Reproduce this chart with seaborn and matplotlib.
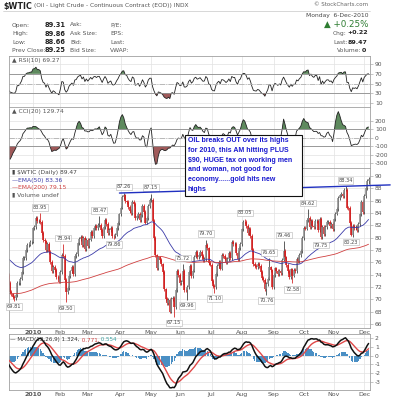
import numpy as np
import pandas as pd
import seaborn as sns
import matplotlib
matplotlib.use("Agg")
import matplotlib.pyplot as plt
from matplotlib.patches import Rectangle
from matplotlib.lines import Line2D

# $WTIC daily closes
# nov 2009 is off screen, only used to warm up rsi / cci / macd
close_2009_11 = [78.15, 79.60, 80.40, 79.62, 77.43, 79.05, 79.07, 79.28, 76.94, 76.35,
                 78.90, 79.14, 79.58, 77.46, 76.72, 77.56, 76.02, 77.96, 76.05, 77.28]
close_2009_12 = [78.37, 76.60, 76.46, 75.47, 73.93, 72.62, 71.20, 70.80, 70.40, 70.20, 70.69,
                 72.66, 72.66, 73.36, 74.40, 76.67, 76.67, 78.05, 78.77, 78.87, 79.28, 79.36]
close_2010_01 = [81.51, 81.77, 83.18, 82.66, 82.75, 82.52, 80.79, 79.65, 79.39, 78.00,
                 79.02, 77.62, 76.08, 74.54, 75.26, 74.71, 73.67, 73.64, 72.89]
close_2010_02 = [74.43, 77.23, 76.98, 73.14, 71.19, 71.89, 73.75, 74.52, 75.28, 74.13,
                 77.01, 77.33, 79.06, 79.81, 80.16, 78.86, 80.00, 78.17, 79.66]
close_2010_03 = [78.70, 79.68, 80.87, 80.21, 81.50, 81.87, 81.49, 82.09, 82.11, 81.24, 80.30, 81.70,
                 82.93, 82.20, 80.68, 81.25, 81.60, 80.31, 80.20, 80.50, 81.53, 82.37, 83.76]
close_2010_04 = [84.87, 86.62, 86.84, 85.88, 85.74, 84.92, 84.34, 84.05, 85.84, 85.51, 83.24,
                 83.45, 83.85, 82.84, 83.70, 85.12, 84.20, 82.44, 83.22, 85.17, 86.15]
close_2010_05 = [86.19, 82.74, 79.97, 77.11, 75.11, 76.80, 76.37, 75.65, 74.38, 71.61,
                 70.08, 69.41, 69.87, 68.01, 70.04, 70.21, 68.75, 71.51, 74.55, 73.97]
close_2010_06 = [72.58, 72.86, 74.61, 71.51, 71.44, 71.99, 74.38, 75.48, 73.78, 74.67, 76.94,
                 77.67, 76.79, 77.18, 77.75, 77.02, 76.35, 76.51, 78.86, 78.26, 75.94, 75.63]
close_2010_07 = [72.95, 72.14, 71.98, 74.07, 75.44, 76.09, 75.00, 77.14, 77.04, 76.62, 76.01,
                 76.54, 77.58, 76.70, 79.30, 78.98, 78.98, 77.50, 76.52, 78.36, 78.95]
close_2010_08 = [81.34, 82.55, 82.49, 81.89, 80.70, 81.48, 80.25, 78.02, 75.74, 75.39, 75.24,
                 75.77, 75.42, 74.43, 73.46, 73.10, 71.63, 72.52, 73.36, 75.17, 74.70, 71.92]
close_2010_09 = [73.91, 75.02, 74.60, 74.09, 74.67, 74.25, 76.45, 77.90, 76.80, 75.57, 74.57,
                 73.66, 74.86, 73.86, 74.71, 74.64, 76.49, 76.18, 77.18, 77.86, 79.97]
close_2010_10 = [81.58, 81.47, 82.82, 83.23, 81.67, 82.66, 81.95, 81.67, 82.69, 82.69, 81.25,
                 83.08, 80.10, 81.77, 80.56, 81.69, 82.52, 82.55, 81.94, 82.18, 81.43]
close_2010_11 = [82.95, 83.90, 84.69, 86.49, 86.85, 87.06, 86.72, 87.81, 87.81, 84.88, 84.86,
                 82.34, 80.44, 81.85, 81.51, 81.74, 81.25, 82.21, 83.76, 85.73, 84.11]
close_2010_12 = [86.75, 88.00, 89.25, 89.47]

holidays = ['2009-11-26', '2009-12-25', '2010-01-01', '2010-01-18', '2010-02-15',
            '2010-04-02', '2010-05-31', '2010-07-05', '2010-09-06', '2010-11-25']

# swing high / low labels printed on the chart
label_dates = ['2009-12-14', '2010-01-11', '2010-02-03', '2010-02-05', '2010-03-11', '2010-03-25',
               '2010-04-06', '2010-05-03', '2010-05-25', '2010-06-03', '2010-06-08', '2010-06-25',
               '2010-07-06', '2010-08-04', '2010-08-25', '2010-08-27', '2010-09-13', '2010-09-21',
               '2010-10-06', '2010-10-19', '2010-11-11', '2010-11-17']
label_values = [69.81, 83.95, 78.94, 69.50, 83.47, 79.86, 87.26, 87.15, 67.15, 75.72, 69.96,
                79.70, 71.10, 83.05, 70.76, 76.65, 79.46, 72.58, 84.62, 79.75, 88.34, 80.23]
label_kind = ['lo', 'hi', 'hi', 'lo', 'hi', 'lo', 'hi', 'hi', 'lo', 'hi', 'lo', 'hi',
              'lo', 'hi', 'lo', 'hi', 'hi', 'lo', 'hi', 'lo', 'hi', 'lo']

# last bar from the header
last_date, last_high, last_low = '2010-12-06', 89.86, 88.66

# hand drawn trend line through the two highs
trend_dates = ['2010-04-06', '2010-11-11']
trend_levels = [87.26, 88.34]

ema50_seed, ema200_seed = 75.5, 69.0

month_labels = ['2010', 'Feb', 'Mar', 'Apr', 'May', 'Jun', 'Jul', 'Aug', 'Sep', 'Oct', 'Nov', 'Dec']

header_left = [('Open:', '89.31', 'Ask:', 'P/E:'),
               ('High:', '89.86', 'Ask Size:', 'EPS:'),
               ('Low:', '88.66', 'Bid:', 'Last:'),
               ('Prev Close:', '89.25', 'Bid Size:', 'VWAP:')]

note = ("OIL breaks OUT over its highs\nfor 2010, this AM hitting PLUS\n"
        "$90, HUGE tax on working men\nand woman, not good for\neconomy......gold hits new\nhighs")

# ---- build the frame ----
closes = (close_2009_11 + close_2009_12 + close_2010_01 + close_2010_02 + close_2010_03 +
          close_2010_04 + close_2010_05 + close_2010_06 + close_2010_07 + close_2010_08 +
          close_2010_09 + close_2010_10 + close_2010_11 + close_2010_12)
dates = pd.bdate_range('2009-11-02', '2010-12-06')
dates = dates[~dates.isin(pd.to_datetime(holidays))]
assert len(dates) == len(closes), (len(dates), len(closes))

df = pd.DataFrame({'close': closes}, index=dates)
df['open'] = df['close'].shift(1).fillna(df['close'])
df['high'] = df[['open', 'close']].max(axis=1) + 0.3
df['low'] = df[['open', 'close']].min(axis=1) - 0.3
for d, v, k in zip(label_dates, label_values, label_kind):
    df.loc[d, 'high' if k == 'hi' else 'low'] = v
df.loc[last_date, 'high'] = last_high
df.loc[last_date, 'low'] = last_low
# trading day axis, 0 = first bar of 2010
df['x'] = np.arange(len(df)) - len(close_2009_11) - len(close_2009_12)


def ema_seeded(values, span, seed):
    a = 2 / (span + 1)
    out, prev = [], seed
    for v in values:
        prev = a * v + (1 - a) * prev
        out.append(prev)
    return np.array(out)


df['ema50'] = ema_seeded(df['close'], 50, ema50_seed)
df['ema200'] = ema_seeded(df['close'], 200, ema200_seed)

delta = df['close'].diff()
gain = delta.clip(lower=0).ewm(alpha=1 / 10, adjust=False).mean()
loss = (-delta.clip(upper=0)).ewm(alpha=1 / 10, adjust=False).mean()
df['rsi'] = 100 - 100 / (1 + gain / loss)

tp = (df['high'] + df['low'] + df['close']) / 3
md = tp.rolling(20).apply(lambda v: np.abs(v - v.mean()).mean(), raw=True)
df['cci'] = (tp - tp.rolling(20).mean()) / (0.015 * md)

df['macd'] = df['close'].ewm(span=12, adjust=False).mean() - df['close'].ewm(span=26, adjust=False).mean()
df['signal'] = df['macd'].ewm(span=9, adjust=False).mean()
df['hist'] = df['macd'] - df['signal']

vis = df[df['x'] >= -17]
month_x = vis[vis['x'] >= 0].groupby(vis[vis['x'] >= 0].index.month)['x'].first().values
xmin, xmax = -16.7, 234

# ---- figure ----
sns.set_theme(style="white")
plt.rcParams['font.family'] = ['DejaVu Sans']
plt.rcParams['axes.unicode_minus'] = False

W, H = 393, 400
fig = plt.figure(figsize=(W / 100, H / 100), dpi=100)


def fx(x):
    return x / W


def fy(y):
    return 1 - y / H


def panel(top, bottom):
    return fig.add_axes([fx(9), fy(bottom), fx(370) - fx(9), (bottom - top) / H])


def style(ax, yticks, ylim):
    ax.set_xlim(xmin, xmax)
    ax.set_ylim(ylim)
    ax.set_yticks(yticks)
    ax.yaxis.tick_right()
    ax.tick_params(axis='y', labelsize=4.3, labelcolor='#555555', length=2, width=0.4,
                   color='#999999', pad=1.5, right=True, left=False)
    ax.set_xticks(month_x)
    ax.tick_params(axis='x', length=0, labelbottom=False)
    ax.grid(True, color='#e2e2e2', lw=0.5)
    for s in ax.spines.values():
        s.set_color('#a0a0a0')
        s.set_linewidth(0.6)
    ax.set_xlabel('')
    ax.set_ylabel('')


GREEN, RED = '#5e8a5e', '#a05a5a'

# RSI
ax_rsi = panel(56, 107)
sns.lineplot(x=vis['x'], y=vis['rsi'], ax=ax_rsi, color='#222222', lw=0.6, legend=False)
ax_rsi.fill_between(vis['x'], vis['rsi'], 70, where=vis['rsi'] > 70, interpolate=True, color=GREEN, lw=0)
ax_rsi.fill_between(vis['x'], vis['rsi'], 30, where=vis['rsi'] < 30, interpolate=True, color=RED, lw=0)
for lvl in (70, 30):
    ax_rsi.axhline(lvl, color='#8c8c8c', lw=0.6)
ax_rsi.axhline(50, color='#b0b0b0', lw=0.6, ls='-.')
style(ax_rsi, [10, 30, 50, 70, 90], (1.6, 106.8))
ax_rsi.text(0.008, 0.97, '\u25b2 RSI(10) 69.27', transform=ax_rsi.transAxes, fontsize=4.3,
            color='#555555', va='top')

# CCI
ax_cci = panel(107, 168)
sns.lineplot(x=vis['x'], y=vis['cci'], ax=ax_cci, color='#222222', lw=0.6, legend=False)
ax_cci.fill_between(vis['x'], vis['cci'], 100, where=vis['cci'] > 100, interpolate=True, color=GREEN, lw=0)
ax_cci.fill_between(vis['x'], vis['cci'], -100, where=vis['cci'] < -100, interpolate=True, color=RED, lw=0)
for lvl in (100, -100):
    ax_cci.axhline(lvl, color='#8c8c8c', lw=0.6)
ax_cci.axhline(0, color='#b0b0b0', lw=0.6, ls='-.')
style(ax_cci, [-300, -200, -100, 0, 100, 200], (-360, 367))
ax_cci.text(0.008, 0.97, '\u25b2 CCI(20) 129.74', transform=ax_cci.transAxes, fontsize=4.3,
            color='#555555', va='top')

# price
ax_p = panel(168, 328)
up = vis['close'] >= vis['close'].shift(1).fillna(vis['open'])
wick_col = np.where(up, '#333333', '#d01818')
body_col = np.where(up, '#8a8a8a', '#d01818')
ax_p.vlines(vis['x'], vis['low'], vis['high'], colors=wick_col, lw=0.55)
ax_p.vlines(vis['x'], vis['open'], vis['close'], colors=body_col, lw=1.1)
sns.lineplot(x=vis['x'], y=vis['ema50'], ax=ax_p, color='#3a3aa8', lw=0.6, legend=False)
sns.lineplot(x=vis['x'], y=vis['ema200'], ax=ax_p, color='#d04040', lw=0.6, legend=False)
style(ax_p, list(range(66, 91, 2)), (65.35, 91.3))
ax_p.set_xticklabels(month_labels)
ax_p.tick_params(axis='x', labelbottom=True, labelsize=4.5, labelcolor='#555555', pad=1.2)
ax_p.get_xticklabels()[0].set_fontweight('bold')

for d, v, k in zip(label_dates, label_values, label_kind):
    xi = df.loc[d, 'x']
    ax_p.annotate(f'{v:.2f}', xy=(xi, v), xytext=(0, 2.5 if k == 'hi' else -2.5),
                  textcoords='offset points', ha='center', va='bottom' if k == 'hi' else 'top',
                  fontsize=3.6, color='#444444',
                  bbox=dict(boxstyle='square,pad=0.15', fc='white', ec='#b5b5b5', lw=0.4))

# trend line, extended past the right edge like the original
tx = [df.loc[d, 'x'] for d in trend_dates]
slope = (trend_levels[1] - trend_levels[0]) / (tx[1] - tx[0])
line_x = np.array([df.loc['2010-03-31', 'x'], 248])
line_y = trend_levels[0] + slope * (line_x - tx[0])
ax_p.plot(line_x, line_y, color='#2030c0', lw=1.0, clip_on=False, zorder=5)

ax_p.text(0.008, 0.985, '\u25ae $WTIC (Daily) 89.47', transform=ax_p.transAxes, fontsize=4.3,
          color='#444444', va='top')
ax_p.text(0.008, 0.94, '\u2014EMA(50) 83.36', transform=ax_p.transAxes, fontsize=4.3,
          color='#3a3aa8', va='top')
ax_p.text(0.008, 0.895, '\u2014EMA(200) 79.15', transform=ax_p.transAxes, fontsize=4.3,
          color='#d04040', va='top')
ax_p.text(0.008, 0.85, '\u25ae Volume undef', transform=ax_p.transAxes, fontsize=4.3,
          color='#555555', va='top')

# MACD
ax_m = panel(334, 390)
ax_m.bar(vis['x'], vis['hist'], width=0.9, color='#4a8fc4', lw=0, zorder=2)
sns.lineplot(x=vis['x'], y=vis['signal'], ax=ax_m, color='#e04848', lw=1.0, legend=False, zorder=3)
sns.lineplot(x=vis['x'], y=vis['macd'], ax=ax_m, color='#111111', lw=1.1, legend=False, zorder=4)
style(ax_m, [-3, -2, -1, 0, 1, 2], (-3.93, 2.45))
ax_m.set_xticklabels(month_labels)
ax_m.tick_params(axis='x', labelbottom=True, labelsize=4.5, labelcolor='#555555', pad=1.2)
ax_m.get_xticklabels()[0].set_fontweight('bold')
# colored legend pieces, chained so they never overlap
t1 = ax_m.text(0.004, 0.94, '\u2014 MACD(12,26,9) 1.324,', transform=ax_m.transAxes,
               fontsize=4.1, color='#333333', va='top', zorder=6)
t2 = ax_m.annotate(' 0.771,', xy=(1, 0), xycoords=t1, fontsize=4.1, color='#d04040', va='bottom')
ax_m.annotate(' 0.554', xy=(1, 0), xycoords=t2, fontsize=4.1, color='#3aa0a0', va='bottom')

# header
fig.text(fx(3), fy(6), '$WTIC', fontsize=5.8, fontweight='bold', color='#222222', va='center')
fig.text(fx(34), fy(6), '(Oil - Light Crude - Continuous Contract (EOD)) INDX', fontsize=4.2,
         color='#555555', va='center')
fig.add_artist(Line2D([fx(3), fx(370)], [fy(11), fy(11)], color='#c8c8c8', lw=0.5))
fig.text(fx(368), fy(5), '\u00a9 StockCharts.com', fontsize=4, color='#666666', ha='right', va='center')
fig.text(fx(368), fy(15), 'Monday  6-Dec-2010', fontsize=4.3, color='#444444', ha='right', va='center')
fig.text(fx(368), fy(24), '\u25b2 +0.25%', fontsize=6.3, color='#2e7d32', ha='right', va='center')
fig.text(fx(333), fy(33), 'Chg:', fontsize=4.3, color='#555555', va='center')
fig.text(fx(368), fy(33), '+0.22', fontsize=4.5, color='#222222', ha='right', va='center', fontweight='bold')
fig.text(fx(333), fy(42), 'Last:', fontsize=4.3, color='#555555', va='center')
fig.text(fx(368), fy(42), '89.47', fontsize=4.5, color='#222222', ha='right', va='center', fontweight='bold')
fig.text(fx(337), fy(50), 'Volume:', fontsize=4.3, color='#555555', va='center')
fig.text(fx(366), fy(50), '0', fontsize=4.5, color='#222222', ha='right', va='center', fontweight='bold')
for i, (lab, val, lab2, lab3) in enumerate(header_left):
    yy = fy(25 + i * 8.5)
    fig.text(fx(12), yy, lab, fontsize=4.3, color='#555555', va='center')
    fig.text(fx(45), yy, val, fontsize=4.8, color='#222222', va='center', fontweight='bold')
    fig.text(fx(70), yy, lab2, fontsize=4.3, color='#555555', va='center')
    fig.text(fx(110), yy, lab3, fontsize=4.3, color='#555555', va='center')

# annotation box
fig.add_artist(Rectangle((fx(185), fy(196)), fx(302) - fx(185), (196 - 135) / H,
                         transform=fig.transFigure, fc='white', ec='#111111', lw=0.8, zorder=10))
fig.text(fx(188), fy(137), note, fontsize=5.0, fontweight='bold', color='#1a1ad0',
         family=['Liberation Sans', 'DejaVu Sans'], va='top', ha='left', linespacing=1.55, zorder=11)

fig.savefig('out.png', dpi=100)
